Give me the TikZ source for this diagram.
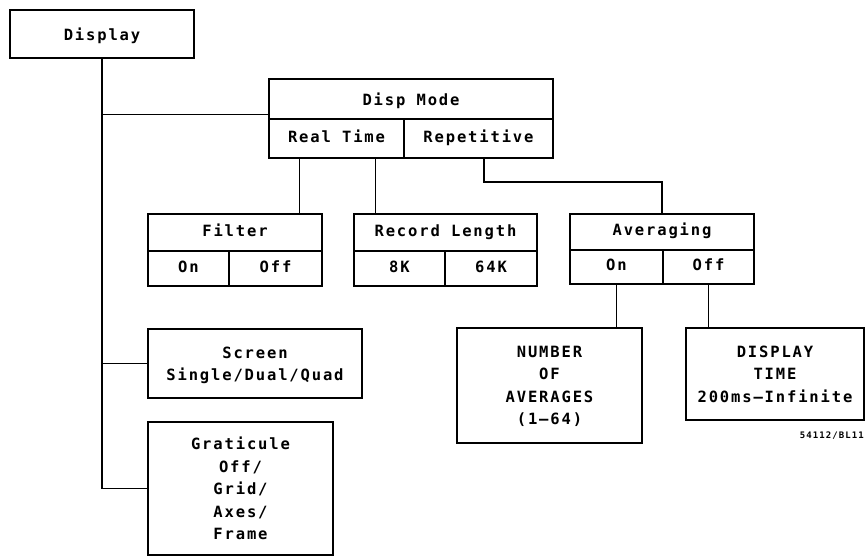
\documentclass[tikz,border=0pt]{standalone}
\usepackage{fontspec}
\newfontfamily\plotfont[LetterSpace=12]{DejaVu Sans Mono Bold}
\usetikzlibrary{calc}

\begin{document}
\begin{tikzpicture}[x=1pt,y=-1pt,font=\plotfont\fontsize{15.5}{22.5}\selectfont]
  \tikzstyle{box}=[draw,line width=2.6pt,inner sep=0pt,align=center,text depth=-4pt]
  \tikzstyle{cell}=[inner sep=0pt,outer sep=0pt,text height=0.73em,text depth=0pt]
  \tikzstyle{rule}=[line width=1.4pt]
  \tikzstyle{wire}=[line width=1.3pt]
  \useasboundingbox (0,0) rectangle (866,557);
  % top level
  \node[box,minimum width=184pt,minimum height=48pt,text depth=-13pt] (disp) at (102,34) {Display};
  % display mode
  \node[box,minimum width=284pt,minimum height=79pt] (dmode) at (411,118.5) {};
  \node[cell,minimum width=284pt,minimum height=40pt] (dmodet) at (411,102) {Disp Mode};
  \node[cell,minimum width=135pt,minimum height=39pt] (rt) at (336.5,138.5) {Real Time};
  \node[cell,minimum width=149pt,minimum height=39pt] (rep) at (478.5,138.5) {Repetitive};
  \draw[rule] (rt.north west) -- (rep.north east);
  \draw[rule] (rt.north east) -- (rt.south east);
  \coordinate (dmodein) at ([yshift=4pt]dmode.west);
  % filter
  \node[box,minimum width=174pt,minimum height=72pt] (filter) at (235,250) {};
  \node[cell,minimum width=174pt,minimum height=37pt] (filtert) at (235,232.5) {Filter};
  \node[cell,minimum width=81pt,minimum height=35pt] (filon) at (188.5,268.5) {On};
  \node[cell,minimum width=93pt,minimum height=35pt] (filoff) at (275.5,268.5) {Off};
  \draw[rule] (filon.north west) -- (filoff.north east);
  \draw[rule] (filon.north east) -- (filon.south east);
  % record length
  \node[box,minimum width=183pt,minimum height=72pt] (reclen) at (445.5,250) {};
  \node[cell,minimum width=183pt,minimum height=37pt] (reclent) at (445.5,232.5) {Record Length};
  \node[cell,minimum width=91pt,minimum height=35pt] (rl8) at (399.5,268.5) {8K};
  \node[cell,minimum width=92pt,minimum height=35pt] (rl64) at (491,268.5) {64K};
  \draw[rule] (rl8.north west) -- (rl64.north east);
  \draw[rule] (rl8.north east) -- (rl8.south east);
  % averaging
  \node[box,minimum width=184pt,minimum height=70pt] (avg) at (662,249) {};
  \node[cell,minimum width=184pt,minimum height=36pt] (avgt) at (662,232) {Averaging};
  \node[cell,minimum width=93pt,minimum height=34pt] (avgon) at (616.5,267) {On};
  \node[cell,minimum width=91pt,minimum height=34pt] (avgoff) at (708.5,267) {Off};
  \draw[rule] (avgon.north west) -- (avgoff.north east);
  \draw[rule] (avgon.north east) -- (avgon.south east);
  \node[box,minimum width=185pt,minimum height=115pt,text depth=-3pt] (numavg) at (549.5,385.5) {NUMBER\\OF\\AVERAGES\\(1–64)};
  \node[box,minimum width=178pt,minimum height=92pt,text depth=-3pt] (disptime) at (775,374) {DISPLAY\\TIME\\200ms—Infinite};
  % screen and graticule
  \node[box,minimum width=214pt,minimum height=69pt,text depth=-9pt] (scr) at (255,363.5) {Screen\\Single/Dual/Quad};
  \node[box,minimum width=185pt,minimum height=133pt,text depth=-12pt] (grat) at (240.5,488.5) {Graticule\\Off/\\Grid/\\Axes/\\Frame};
  \node[anchor=east,inner sep=0pt,font=\plotfont\fontsize{9}{10}\selectfont] (fignum) at (864,436) {54112/BL11};
  % connectors
  \draw[wire] (disp.south) -- (disp.south |- grat.west) -- (grat.west);
  \draw[wire] (disp.south |- scr.west) -- (scr.west);
  \draw[wire] (disp.south |- dmodein) -- (dmodein);
  \draw[wire] ([xshift=-24pt]filter.north east) -- ([xshift=-24pt]filter.north east |- rt.south);
  \draw[wire] ([xshift=23pt]reclen.north west) -- ([xshift=23pt]reclen.north west |- rt.south);
  \draw[wire] ([xshift=5.5pt]rep.south) -- ++(0,24) -| (avg.north);
  \draw[wire] (avgon.south) -- (avgon.south |- numavg.north);
  \draw[wire] (avgoff.south) -- (avgoff.south |- disptime.north);
\end{tikzpicture}
\end{document}
